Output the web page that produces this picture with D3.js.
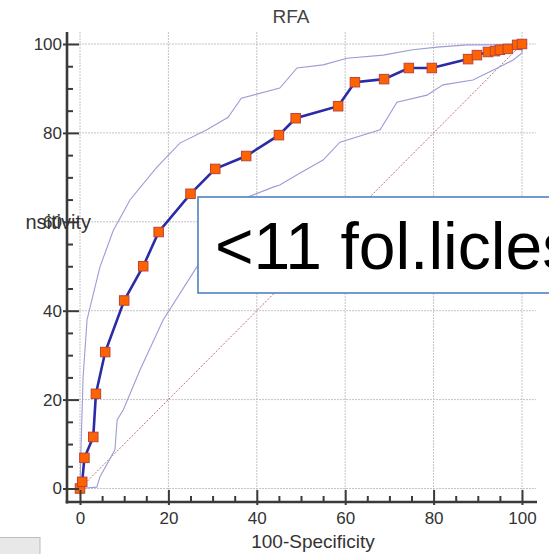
<!DOCTYPE html>
<html>
<head>
<meta charset="utf-8">
<script src="https://cdn.jsdelivr.net/npm/d3@7"></script>
<style>
  html, body { margin: 0; padding: 0; background: #fff; }
  svg { display: block; }
</style>
</head>
<body>
<svg id="chart" width="549" height="554"></svg>
<script>
// ROC curve points (100-Specificity, Sensitivity)
const rocX = [0, 0.5, 1, 3, 3.6, 5.7, 10, 14.3, 17.8, 25, 30.6, 37.6, 45, 48.8, 58.4, 62.2, 68.8, 74.4, 79.6, 87.8, 89.8, 92.3, 93.9, 95, 96.8, 98.9, 100];
const rocY = [0, 1.5, 6.9, 11.6, 21.3, 30.7, 42.3, 50, 57.7, 66.3, 71.9, 74.8, 79.5, 83.3, 86, 91.4, 92.1, 94.6, 94.6, 96.6, 97.5, 98.2, 98.4, 98.7, 98.9, 99.8, 100];
// Upper confidence band
const upX = [0, 0.2, 0.7, 1.6, 4.5, 7.5, 11.3, 17.4, 22.6, 28.7, 33.5, 36.5, 45.2, 49.1, 55, 60.4, 68.6, 75.3, 80.8, 87.6, 94.3, 100];
const upY = [0, 8, 25, 38, 49.8, 58, 64.9, 72.3, 77.7, 80.7, 83.5, 87.8, 90.1, 94.6, 95.3, 96.8, 97.5, 98.7, 99.3, 99.8, 99.8, 100];
// Lower confidence band
const loX = [0, 3.8, 4.5, 7.9, 8.4, 9.8, 13.6, 18.8, 26.4, 30.1, 36.2, 43.7, 45.2, 49.8, 55, 58.8, 67.9, 71.7, 78.5, 82.1, 88.9, 93.4, 98, 100, 100];
const loY = [0, 0.3, 2.6, 8.7, 15.4, 17.7, 26.7, 37.9, 49.8, 55.9, 64.9, 67.8, 68.3, 71, 73.9, 77.9, 80.7, 86.9, 88.5, 90.8, 91.9, 94.1, 96.4, 98, 100];
// Ticks
const majorTicks = [0, 20, 40, 60, 80, 100];
const minorTicks = [5, 10, 15, 25, 30, 35, 45, 50, 55, 65, 70, 75, 85, 90, 95];
const titleText = "RFA";
const xTitle = "100-Specificity";
const yTitle = "Sensitivity";
const noteText = "<11 fol.licles";

const svg = d3.select("#chart");
const x = d3.scaleLinear().domain([0, 100]).range([80, 522]);
const y = d3.scaleLinear().domain([0, 100]).range([488.5, 44]);
const axisX = 67, axisY = 502;

// grid
const grid = svg.append("g");
grid.selectAll(".hg").data(majorTicks).join("line")
  .attr("x1", axisX).attr("x2", 536)
  .attr("y1", d => y(d)).attr("y2", d => y(d))
  .attr("stroke", "#c4c4c4").attr("stroke-width", 1).attr("stroke-dasharray", "2,1");
grid.selectAll(".vg").data(majorTicks).join("line")
  .attr("x1", d => x(d)).attr("x2", d => x(d))
  .attr("y1", 32).attr("y2", axisY)
  .attr("stroke", "#c4c4c4").attr("stroke-width", 1).attr("stroke-dasharray", "2,1");

// diagonal reference
svg.append("line")
  .attr("x1", x(0)).attr("y1", y(0)).attr("x2", x(100)).attr("y2", y(100))
  .attr("stroke", "#c07070").attr("stroke-width", 1).attr("stroke-dasharray", "2,1.5");

const line = d3.line().x(d => x(d[0])).y(d => y(d[1]));
const up = upX.map((v, i) => [v, upY[i]]);
const lo = loX.map((v, i) => [v, loY[i]]);
const roc = rocX.map((v, i) => [v, rocY[i]]);

svg.append("path").datum(up).attr("d", line).attr("fill", "none")
  .attr("stroke", "#9c9cd6").attr("stroke-width", 1.1);
svg.append("path").datum(lo).attr("d", line).attr("fill", "none")
  .attr("stroke", "#9c9cd6").attr("stroke-width", 1.1);
svg.append("path").datum(roc).attr("d", line).attr("fill", "none")
  .attr("stroke", "#2b2ba6").attr("stroke-width", 2.6);

const ms = 9.5;
svg.selectAll(".pt").data(roc).join("rect")
  .attr("x", d => x(d[0]) - ms / 2).attr("y", d => y(d[1]) - ms / 2)
  .attr("width", ms).attr("height", ms)
  .attr("fill", "#ff6200").attr("stroke", "#b8453a").attr("stroke-width", 1);

// axes
const tickColor = "#3a3a3a";
function styleAxis(g) {
  g.select(".domain").remove();
  g.selectAll("line").attr("stroke", tickColor).attr("stroke-width", 2);
  g.selectAll("text").attr("fill", "#333").attr("font-size", 17)
    .attr("font-family", "Liberation Sans, Arial, sans-serif");
}
svg.append("g").attr("transform", `translate(${axisX},0)`)
  .call(d3.axisLeft(y).tickValues(majorTicks).tickSize(4).tickPadding(1)).call(styleAxis);
svg.append("g").attr("transform", `translate(${axisX},0)`)
  .call(d3.axisLeft(y).tickValues(majorTicks).tickSize(-12).tickFormat("")).call(styleAxis);
svg.append("g").attr("transform", `translate(${axisX},0)`)
  .call(d3.axisLeft(y).tickValues(minorTicks).tickSize(-6).tickFormat("")).call(styleAxis);

svg.append("g").attr("transform", `translate(0,${axisY})`)
  .call(d3.axisBottom(x).tickValues(majorTicks).tickSize(3).tickPadding(7)).call(styleAxis);
svg.append("g").attr("transform", `translate(0,${axisY})`)
  .call(d3.axisBottom(x).tickValues(majorTicks).tickSize(-12).tickFormat("")).call(styleAxis);
svg.append("g").attr("transform", `translate(0,${axisY})`)
  .call(d3.axisBottom(x).tickValues(minorTicks).tickSize(-6).tickFormat("")).call(styleAxis);

svg.append("line").attr("x1", axisX).attr("x2", axisX).attr("y1", 32).attr("y2", axisY + 1.5)
  .attr("stroke", tickColor).attr("stroke-width", 2.6);
svg.append("line").attr("x1", axisX - 1.3).attr("x2", 537).attr("y1", axisY).attr("y2", axisY)
  .attr("stroke", tickColor).attr("stroke-width", 2.6);

// titles
svg.append("text").attr("x", 291).attr("y", 23).attr("text-anchor", "middle")
  .attr("font-family", "Liberation Sans, Arial, sans-serif").attr("font-size", 19)
  .attr("fill", "#444").text(titleText);
svg.append("text").attr("x", 313).attr("y", 548).attr("text-anchor", "middle")
  .attr("font-family", "Liberation Sans, Arial, sans-serif").attr("font-size", 19)
  .attr("fill", "#333").text(xTitle);

svg.append("clipPath").attr("id", "ylabclip").append("rect")
  .attr("x", 25.5).attr("y", 200).attr("width", 100).attr("height", 40);
svg.append("text").attr("x", 91).attr("y", 229).attr("text-anchor", "end")
  .attr("clip-path", "url(#ylabclip)")
  .attr("font-family", "Liberation Sans, Arial, sans-serif").attr("font-size", 20)
  .attr("fill", "#333").text(yTitle);

// annotation box
svg.append("rect").attr("x", 198).attr("y", 197).attr("width", 370).attr("height", 96)
  .attr("fill", "#fff").attr("stroke", "#4f81bd").attr("stroke-width", 1.6);
svg.append("text").attr("x", 215).attr("y", 269)
  .attr("font-family", "Liberation Sans, Arial, sans-serif").attr("font-size", 66)
  .attr("fill", "#000").text(noteText);

// grey box bottom-left
svg.append("rect").attr("x", -1).attr("y", 537.5).attr("width", 41).attr("height", 20)
  .attr("fill", "#e8e8e8").attr("stroke", "#bdbdbd").attr("stroke-width", 1);
</script>
</body>
</html>
